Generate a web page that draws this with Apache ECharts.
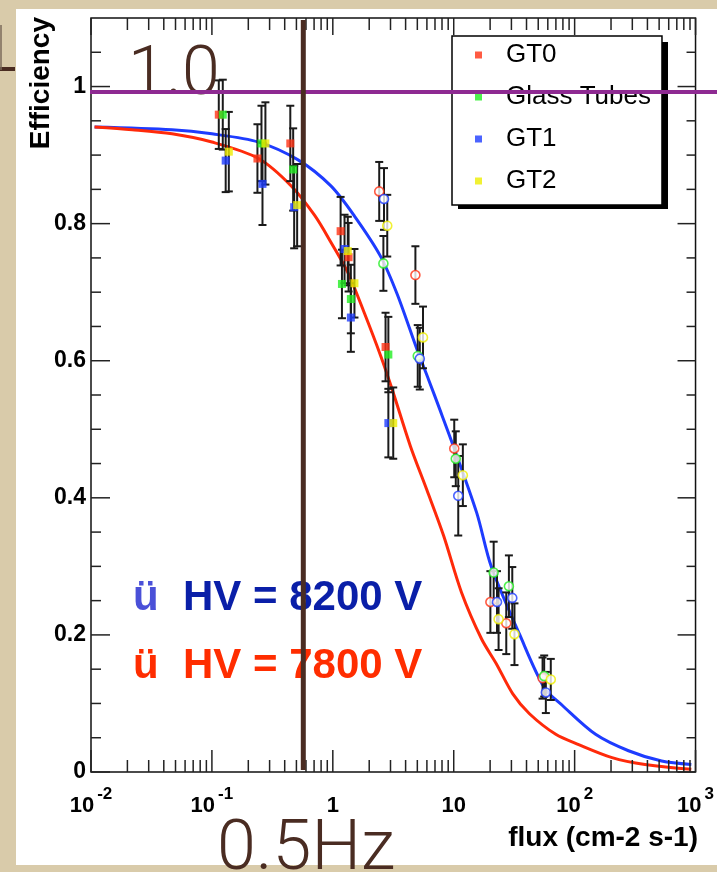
<!DOCTYPE html>
<html><head><meta charset="utf-8">
<script src="https://cdn.jsdelivr.net/npm/echarts@6/dist/echarts.min.js"></script>
<style>html,body{margin:0;padding:0;background:#d9cbaa;}#c{width:717px;height:872px;}</style>
</head><body><div id="c"></div>
<script>
// ---- tick labels ----
const xTickValues = [0.01, 0.1, 1, 10, 100, 1000];
const xTickBase = ['10', '10', '1', '10', '10', '10'];
const xTickExp = ['-2', '-1', '', '', '2', '3'];
const yTickValues = [0, 0.2, 0.4, 0.6, 0.8, 1];
const yTickLabels = ['0', '0.2', '0.4', '0.6', '0.8', '1'];
const legendNames = ['GT0', 'Glass Tubes', 'GT1', 'GT2'];

// ---- HV = 7800 V (filled markers) ----
const gt0Flux7800 = [0.114, 0.238, 0.445, 1.16, 1.35, 2.73];
const gt0Eff7800  = [0.959, 0.895, 0.917, 0.789, 0.751, 0.620];
const gt0Err7800  = [0.050, 0.050, 0.055, 0.050, 0.050, 0.050];
const glassFlux7800 = [0.123, 0.257, 0.470, 1.19, 1.41, 2.88];
const glassEff7800  = [0.959, 0.917, 0.879, 0.712, 0.690, 0.609];
const glassErr7800  = [0.051, 0.055, 0.060, 0.050, 0.050, 0.055];
const gt1Flux7800 = [0.130, 0.262, 0.479, 1.25, 1.41, 2.88];
const gt1Eff7800  = [0.892, 0.858, 0.824, 0.763, 0.663, 0.509];
const gt1Err7800  = [0.046, 0.060, 0.060, 0.050, 0.050, 0.050];
const gt2Flux7800 = [0.138, 0.277, 0.507, 1.33, 1.51, 3.16];
const gt2Eff7800  = [0.905, 0.917, 0.827, 0.760, 0.713, 0.509];
const gt2Err7800  = [0.058, 0.060, 0.060, 0.050, 0.050, 0.052];

// ---- HV = 8200 V (open markers) ----
const gt0Flux8200 = [2.42, 4.82, 10.1, 20.1, 27.2, 54.3];
const gt0Eff8200  = [0.847, 0.725, 0.472, 0.248, 0.217, 0.137];
const gt0Err8200  = [0.043, 0.042, 0.042, 0.045, 0.045, 0.030];
const glassFlux8200 = [2.62, 5.04, 10.4, 21.4, 28.6, 56.0];
const glassEff8200  = [0.742, 0.607, 0.457, 0.291, 0.271, 0.140];
const glassErr8200  = [0.040, 0.045, 0.040, 0.045, 0.045, 0.030];
const gt1Flux8200 = [2.65, 5.24, 10.9, 22.8, 30.5, 57.8];
const gt1Eff8200  = [0.836, 0.603, 0.403, 0.248, 0.254, 0.116];
const gt1Err8200  = [0.045, 0.045, 0.058, 0.045, 0.045, 0.030];
const gt2Flux8200 = [2.82, 5.57, 11.9, 23.5, 31.8, 63.5];
const gt2Eff8200  = [0.797, 0.634, 0.433, 0.223, 0.201, 0.135];
const gt2Err8200  = [0.045, 0.045, 0.045, 0.045, 0.045, 0.030];

// ---- fit curves ----
const blueFitFlux = [0.0107, 0.0468, 0.1, 0.243, 0.516, 0.964, 1.51, 2.47, 3.41, 4.98, 6.21, 7.67, 9.95, 15.5, 20.5, 35.0, 56.1, 79.3, 149, 279, 524, 923];
const blueFitEff  = [0.941, 0.937, 0.931, 0.919, 0.893, 0.855, 0.811, 0.753, 0.697, 0.616, 0.572, 0.529, 0.475, 0.378, 0.299, 0.201, 0.123, 0.097, 0.055, 0.031, 0.016, 0.011];
const redFitFlux = [0.0107, 0.0219, 0.0468, 0.1, 0.243, 0.453, 0.708, 0.964, 1.33, 1.82, 2.49, 3.10, 4.39, 6.01, 8.24, 11.6, 17.0, 22.5, 30.8, 42.3, 69.8, 108, 204, 382, 923];
const redFitEff  = [0.941, 0.937, 0.931, 0.919, 0.895, 0.855, 0.812, 0.773, 0.729, 0.670, 0.607, 0.558, 0.475, 0.411, 0.345, 0.262, 0.194, 0.158, 0.114, 0.085, 0.055, 0.040, 0.021, 0.011, 0.004];

// ---- reference markers ----
const refEfficiency = 0.992;
const refFlux = 0.57;

// ---- style ----
const colGT0 = '#ff3214', colGlass = '#22ee22', colGT1 = '#1e3cff', colGT2 = '#eeee00';
const SANS = '"Liberation Sans", Arial, Helvetica, sans-serif';

function pairs(xs, ys) { return xs.map((x, i) => [x, ys[i]]); }
function triples(xs, ys, es) { return xs.map((x, i) => [x, ys[i], es[i]]); }

const groups = [
  {name: 'GT0', color: colGT0, x: gt0Flux7800, y: gt0Eff7800, e: gt0Err7800, open: false},
  {name: 'Glass Tubes', color: colGlass, x: glassFlux7800, y: glassEff7800, e: glassErr7800, open: false},
  {name: 'GT1', color: colGT1, x: gt1Flux7800, y: gt1Eff7800, e: gt1Err7800, open: false},
  {name: 'GT2', color: colGT2, x: gt2Flux7800, y: gt2Eff7800, e: gt2Err7800, open: false},
  {name: 'GT0', color: colGT0, x: gt0Flux8200, y: gt0Eff8200, e: gt0Err8200, open: true},
  {name: 'Glass Tubes', color: colGlass, x: glassFlux8200, y: glassEff8200, e: glassErr8200, open: true},
  {name: 'GT1', color: colGT1, x: gt1Flux8200, y: gt1Eff8200, e: gt1Err8200, open: true},
  {name: 'GT2', color: colGT2, x: gt2Flux8200, y: gt2Eff8200, e: gt2Err8200, open: true}
];

let errData = [];
groups.forEach(g => { errData = errData.concat(triples(g.x, g.y, g.e)); });

// tick positions (axis furniture)
const xMinorTicks = [];
[0.01, 0.1, 1, 10, 100].forEach(d => { for (let m = 2; m <= 9; m++) xMinorTicks.push(d * m); });
const yMinorTicks = [0.05, 0.1, 0.15, 0.25, 0.3, 0.35, 0.45, 0.5, 0.55, 0.65, 0.7, 0.75, 0.85, 0.9, 0.95, 1.05];

function tickRender(params, api) {
  const ch = [];
  const L = (x1, y1, x2, y2) => ch.push({type: 'line', shape: {x1, y1, x2, y2}, style: {stroke: '#222', lineWidth: 1.5}});
  xTickValues.forEach(v => { const b = api.coord([v, 0]), t = api.coord([v, 1.1]); L(b[0], b[1], b[0], b[1] - 22); L(t[0], t[1], t[0], t[1] + 17); });
  xMinorTicks.forEach(v => { const b = api.coord([v, 0]), t = api.coord([v, 1.1]); L(b[0], b[1], b[0], b[1] - 12); L(t[0], t[1], t[0], t[1] + 12); });
  yTickValues.forEach(v => { const l = api.coord([0.01, v]), r = api.coord([1000, v]); L(l[0], l[1], l[0] + 19, l[1]); L(r[0], r[1], r[0] - 18, r[1]); });
  yMinorTicks.forEach(v => { const l = api.coord([0.01, v]), r = api.coord([1000, v]); L(l[0], l[1], l[0] + 10, l[1]); L(r[0], r[1], r[0] - 9, r[1]); });
  return {type: 'group', children: ch};
}

function errRender(params, api) {
  const x = api.value(0), y = api.value(1), e = api.value(2);
  const t = api.coord([x, y + e]), b = api.coord([x, y - e]);
  const st = {stroke: '#1a1a1a', lineWidth: 2};
  return {type: 'group', children: [
    {type: 'line', shape: {x1: t[0], y1: t[1], x2: b[0], y2: b[1]}, style: st},
    {type: 'line', shape: {x1: t[0] - 4, y1: t[1], x2: t[0] + 4, y2: t[1]}, style: st},
    {type: 'line', shape: {x1: b[0] - 4, y1: b[1], x2: b[0] + 4, y2: b[1]}, style: st}
  ]};
}

function xLabel(v) {
  const i = xTickValues.findIndex(t => Math.abs(Math.log10(t) - Math.log10(v)) < 1e-6);
  if (i < 0) return '';
  return xTickExp[i] ? '{b|' + xTickBase[i] + '}{s|' + xTickExp[i] + '}' : '{b|' + xTickBase[i] + '}';
}
function yLabel(v) {
  const i = yTickValues.findIndex(t => Math.abs(t - v) < 1e-6);
  return i < 0 ? '' : yTickLabels[i];
}

const series = [];
series.push({type: 'line', name: 'fit8200', data: pairs(blueFitFlux, blueFitEff), showSymbol: false, smooth: 0.3, lineStyle: {color: '#1e3cff', width: 3}, z: 2, silent: true});
series.push({type: 'line', name: 'fit7800', data: pairs(redFitFlux, redFitEff), showSymbol: false, smooth: 0.3, lineStyle: {color: '#ff2a0a', width: 3}, z: 2, silent: true});
series.push({type: 'custom', name: 'ticks', renderItem: tickRender, data: [[1, 0.5]], silent: true, z: 5, clip: false});
series.push({type: 'custom', name: 'errors', renderItem: errRender, data: errData, encode: {x: 0, y: 1}, silent: true, z: 3});
groups.forEach(g => {
  series.push({
    type: 'scatter', name: g.name, data: pairs(g.x, g.y), z: 4, silent: true,
    symbol: g.open ? 'circle' : 'rect', symbolSize: g.open ? 9 : 8,
    itemStyle: g.open ? {color: '#fff', borderColor: g.color, borderWidth: 1.6} : {color: g.color}
  });
});

const chart = echarts.init(document.getElementById('c'));
chart.setOption({
  animation: false,
  backgroundColor: '#d9cbaa',
  grid: {left: 91, top: 18, right: 17, bottom: 100, show: true, backgroundColor: '#fff', borderColor: '#111', borderWidth: 1.5, containLabel: false},
  xAxis: {type: 'log', logBase: 10, min: 0.01, max: 1000, splitNumber: 5,
    axisLine: {show: false}, axisTick: {show: false}, splitLine: {show: false},
    axisLabel: {show: true, margin: 14, formatter: xLabel, showMinLabel: true, showMaxLabel: true, interval: 0,
      rich: {b: {fontFamily: SANS, fontSize: 22, fontWeight: 'bold', color: '#000', lineHeight: 40, verticalAlign: 'middle'},
             s: {fontFamily: SANS, fontSize: 17, fontWeight: 'bold', color: '#000', lineHeight: 12, verticalAlign: 'top', padding: [0, 0, 0, 3]}}}},
  yAxis: {type: 'value', min: 0, max: 1.1, interval: 0.2,
    axisLine: {show: false}, axisTick: {show: false}, splitLine: {show: false},
    axisLabel: {margin: 5, formatter: yLabel, fontFamily: SANS, fontSize: 23, fontWeight: 'bold', color: '#000'}},
  legend: {data: legendNames, orient: 'vertical', left: 452, top: 36, icon: 'rect', itemWidth: 7, itemHeight: 7, itemGap: 16,
    padding: [6, 11, 11, 23], backgroundColor: '#fff', borderColor: '#000', borderWidth: 1.5, borderRadius: 0,
    selectedMode: false, z: 6,
    textStyle: {fontFamily: SANS, fontSize: 26, color: '#000', lineHeight: 26, padding: [0, 0, 0, 19]}},
  series: series
});

const p0 = chart.convertToPixel({gridIndex: 0}, [0.01, refEfficiency]);
const pv = chart.convertToPixel({gridIndex: 0}, [refFlux, 1.1]);
const pb = chart.convertToPixel({gridIndex: 0}, [refFlux, 0]);
const LIGHT = 'Roboto, "Open Sans", Lato, sans-serif';
chart.setOption({graphic: [
  {type: 'rect', shape: {x: 16, y: 9, width: 701, height: 856}, style: {fill: '#fff'}, z: -10, silent: true},
  {type: 'rect', shape: {x: 458, y: 42, width: 210, height: 167}, style: {fill: '#000'}, z: 5, silent: true},
  {type: 'rect', shape: {x: 0, y: 67, width: 15, height: 4}, style: {fill: '#4a2c22'}, z: 1, silent: true},
  {type: 'line', shape: {x1: 1, y1: 25, x2: 1, y2: 70}, style: {stroke: '#7a6a5a', lineWidth: 1.5}, z: 1, silent: true},
  {type: 'text', x: 41, y: 17, rotation: Math.PI / 2, z: 20, silent: true,
    style: {text: 'Efficiency', fontFamily: SANS, fontSize: 28, fontWeight: 'bold', fill: '#000', align: 'right', verticalAlign: 'middle', textAlign: 'right', textVerticalAlign: 'middle'}},
  {type: 'text', x: 698, y: 838, z: 20, silent: true,
    style: {text: 'flux (cm-2 s-1)', fontFamily: SANS, fontSize: 28, fontWeight: 'bold', fill: '#000', align: 'right', verticalAlign: 'middle', textAlign: 'right', textVerticalAlign: 'middle'}},
  {type: 'text', x: 133, y: 598, z: 50, silent: true,
    style: {text: 'ü', fontFamily: SANS, fontSize: 42, fontWeight: 'bold', fill: '#4a50d8', align: 'left', verticalAlign: 'middle', textAlign: 'left', textVerticalAlign: 'middle'}},
  {type: 'text', x: 183, y: 598, z: 50, silent: true,
    style: {text: 'HV = 8200 V', fontFamily: SANS, fontSize: 42, fontWeight: 'bold', fill: '#0a1fa8', align: 'left', verticalAlign: 'middle', textAlign: 'left', textVerticalAlign: 'middle'}},
  {type: 'text', x: 133, y: 666, z: 50, silent: true,
    style: {text: 'ü', fontFamily: SANS, fontSize: 42, fontWeight: 'bold', fill: '#ff2d00', align: 'left', verticalAlign: 'middle', textAlign: 'left', textVerticalAlign: 'middle'}},
  {type: 'text', x: 183, y: 666, z: 50, silent: true,
    style: {text: 'HV = 7800 V', fontFamily: SANS, fontSize: 42, fontWeight: 'bold', fill: '#ff2d00', align: 'left', verticalAlign: 'middle', textAlign: 'left', textVerticalAlign: 'middle'}},
  {type: 'text', x: 128, y: 77, z: 60, silent: true,
    style: {text: '1.0', fontFamily: LIGHT, fontSize: 68, fontWeight: 300, fill: '#4a2c22', align: 'left', verticalAlign: 'middle', textAlign: 'left', textVerticalAlign: 'middle'}},
  {type: 'text', x: 217, y: 851, z: 60, silent: true,
    style: {text: '0.5Hz', fontFamily: LIGHT, fontSize: 70, fontWeight: 300, fill: '#4a2c22', align: 'left', verticalAlign: 'middle', textAlign: 'left', textVerticalAlign: 'middle'}},
  {type: 'line', shape: {x1: p0[0] - 1, y1: p0[1], x2: 717, y2: p0[1]}, style: {stroke: '#8e2a92', lineWidth: 4}, z: 100, silent: true},
  {type: 'line', shape: {x1: pv[0], y1: pv[1] + 2, x2: pb[0], y2: pb[1] - 2}, style: {stroke: '#4a2c22', lineWidth: 5}, z: 110, silent: true}
]});
</script></body></html>
